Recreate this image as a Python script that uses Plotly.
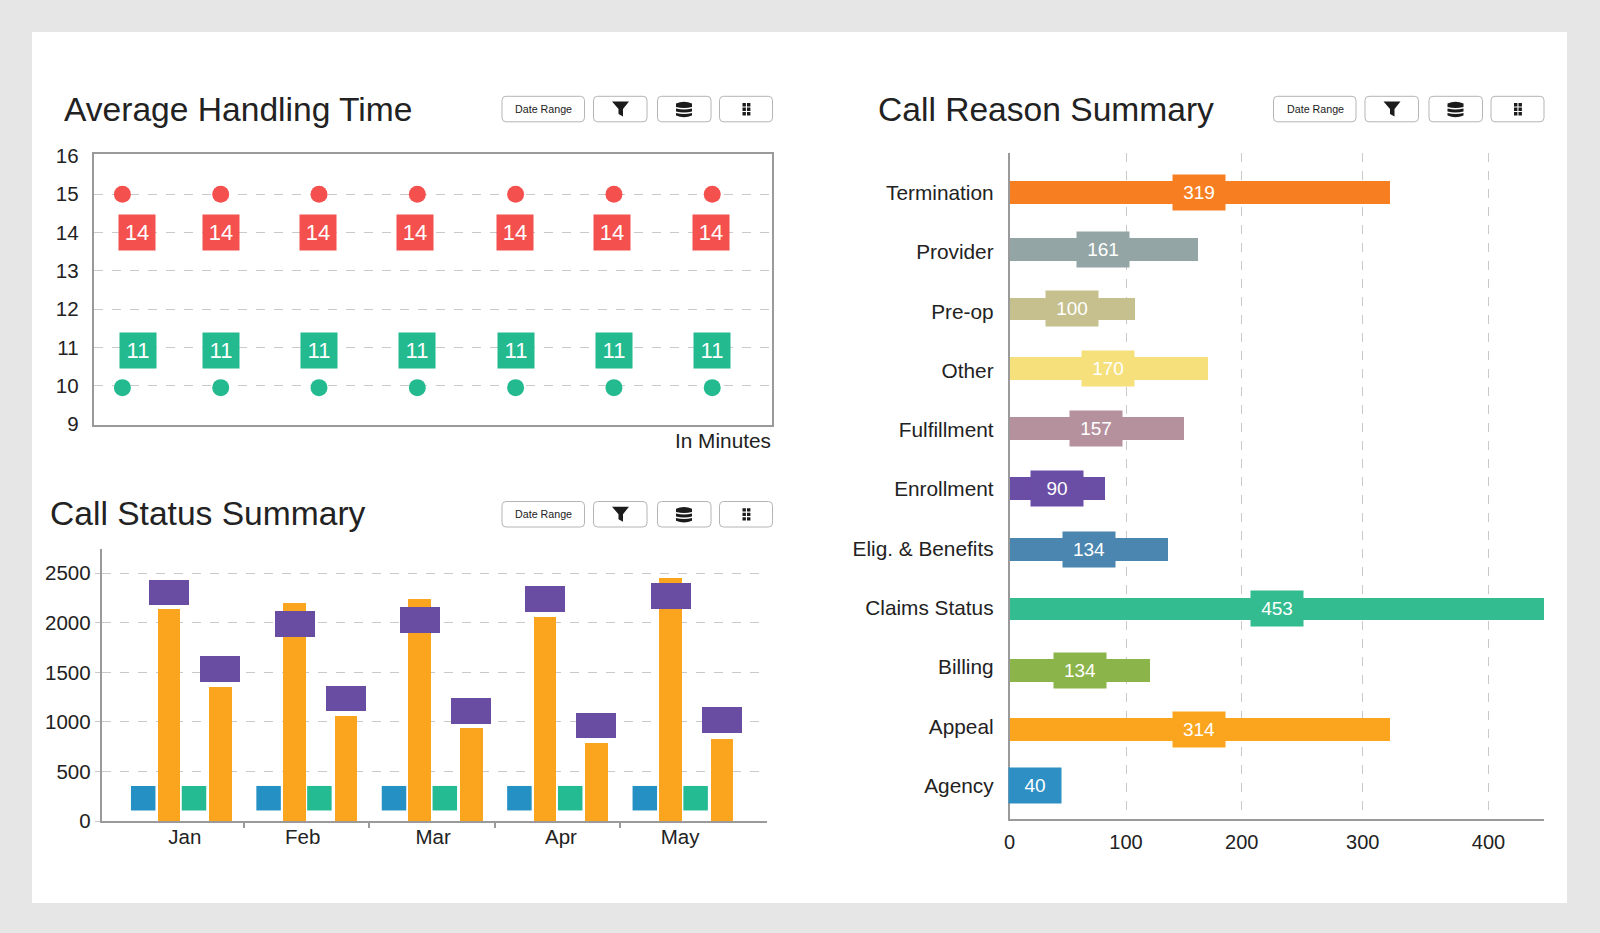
import plotly.graph_objects as go

WIDTH = 1600
HEIGHT = 933
FONT = "Liberation Sans"
TEXT = "#222222"
AXIS = "#9a9a9a"
GRID = "#c9c9c9"

# Average Handling Time
aht_points = [0, 1, 2, 3, 4, 5, 6]
aht_high_marker = [15, 15, 15, 15, 15, 15, 15]
aht_low_marker = [9.95, 9.95, 9.95, 9.95, 9.95, 9.95, 9.95]
aht_high_label = [14, 14, 14, 14, 14, 14, 14]
aht_low_label = [11, 11, 11, 11, 11, 11, 11]
aht_ticks = [9, 10, 11, 12, 13, 14, 15, 16]

# Call Status Summary
months = ["Jan", "Feb", "Mar", "Apr", "May"]
month_idx = [0, 1, 2, 3, 4]
month_ticks = [0.03, 0.97, 2.01, 3.03, 3.98]
status_blue = [230, 230, 230, 230, 230]
status_green = [230, 230, 230, 230, 230]
status_orange_a = [2140, 2198, 2243, 2060, 2450]
status_orange_b = [1352, 1055, 935, 790, 832]
status_purple_a = [2307, 1988, 2028, 2243, 2270]
status_purple_b = [1535, 1237, 1112, 965, 1017]

# Call Reason Summary, bottom to top
reasons = ["Agency", "Appeal", "Billing", "Claims Status", "Elig. & Benefits", "Enrollment",
           "Fulfillment", "Other", "Pre-op", "Provider", "Termination"]
reason_rows = [0, 1, 2, 3, 4, 5, 6, 7, 8, 9, 10]
reason_bar_rows = [0, 0.95, 1.94, 2.98, 3.98, 5.01, 6.02, 7.03, 8.04, 9.04, 10.0]
reason_bars = [43, 317, 117, 447, 132, 79, 145, 165, 104, 157, 317]
reason_labels = [40, 314, 134, 453, 134, 90, 157, 170, 100, 161, 319]
reason_colors = ["#2e8fc4", "#fba51e", "#8bb44a", "#33bc8f", "#4a86b0", "#6a4da5",
                 "#b5919e", "#f6e07b", "#c5c08e", "#93a5a5", "#f77f22"]
reason_ticks = [0, 97.3, 194, 295, 400]
reason_tick_text = ["0", "100", "200", "300", "400"]


def px(x):
    return x / WIDTH


def py(y):
    return 1 - y / HEIGHT


def rect_path(x0, y0, x1, y1, r=0):
    # rounded rectangle, pixel input, paper output
    return (
        f"M {px(x0 + r)} {py(y0)} L {px(x1 - r)} {py(y0)} "
        f"Q {px(x1)} {py(y0)} {px(x1)} {py(y0 + r)} L {px(x1)} {py(y1 - r)} "
        f"Q {px(x1)} {py(y1)} {px(x1 - r)} {py(y1)} L {px(x0 + r)} {py(y1)} "
        f"Q {px(x0)} {py(y1)} {px(x0)} {py(y1 - r)} L {px(x0)} {py(y0 + r)} "
        f"Q {px(x0)} {py(y0)} {px(x0 + r)} {py(y0)} Z"
    )


def poly_path(points):
    return "M " + " L ".join(f"{px(x)} {py(y)}" for x, y in points) + " Z"


def band_path(cx, y, half, h, top_bulge, bottom_bulge):
    # one slice of the database icon
    return (
        f"M {px(cx - half)} {py(y)} Q {px(cx)} {py(y + top_bulge)} {px(cx + half)} {py(y)} "
        f"L {px(cx + half)} {py(y + h)} Q {px(cx)} {py(y + h + bottom_bulge)} {px(cx - half)} {py(y + h)} Z"
    )


fig = go.Figure()
shapes = [
    dict(type="rect", xref="paper", yref="paper", x0=px(32), x1=px(1567), y0=py(903), y1=py(32),
         fillcolor="white", line_width=0, layer="below")
]
annotations = []


def add_toolbar(left, top):
    # left is the left edge of the date range button
    buttons = [(0, 82.5), (91.5, 145), (155.5, 209), (217.5, 270.5)]
    for start, end in buttons:
        shapes.append(dict(type="path", xref="paper", yref="paper",
                           path=rect_path(left + start, top, left + end, top + 25.5, 4),
                           fillcolor="white", line=dict(color="#b5b5b5", width=1)))
    annotations.append(dict(xref="paper", yref="paper", x=px(left + 41.5), y=py(top + 12.7), text="Date Range",
                            showarrow=False, xanchor="center", yanchor="middle",
                            font=dict(family=FONT, size=10.7, color=TEXT)))
    icons = []
    cx = left + 118.5
    cy = top + 12.7
    icons.append(poly_path([(cx - 8.5, cy - 7.5), (cx + 8.5, cy - 7.5), (cx + 2.5, cy), (cx + 2.5, cy + 7.5),
                            (cx - 2, cy + 5), (cx - 2, cy)]))
    cx = left + 182
    icons.append(band_path(cx, cy - 5.5, 8, 3.4, -3.4, 2))
    icons.append(band_path(cx, cy - 0.6, 8, 3, 2, 2))
    icons.append(band_path(cx, cy + 3.9, 8, 2.6, 2, 3.4))
    cx = left + 244.5
    for col in (-4, 0.5):
        for row in (-6, -1.5, 3):
            icons.append(rect_path(cx + col, cy + row, cx + col + 3.4, cy + row + 3.4))
    for path in icons:
        shapes.append(dict(type="path", xref="paper", yref="paper", path=path,
                           fillcolor="#1b1b1b", line_width=0))


def add_title(text, x, y):
    annotations.append(dict(xref="paper", yref="paper", x=px(x), y=py(y), text=text, showarrow=False,
                            xanchor="left", yanchor="middle", font=dict(family=FONT, size=33.6, color=TEXT)))


add_title("Average Handling Time", 62, 109)
add_title("Call Status Summary", 48, 513)
add_title("Call Reason Summary", 876, 109)
add_toolbar(502, 96.3)
add_toolbar(502, 501.5)
add_toolbar(1273.5, 96.3)

annotations.append(dict(xref="paper", yref="paper", x=px(772.5), y=py(441), text="In Minutes", showarrow=False,
                        xanchor="right", yanchor="middle", font=dict(family=FONT, size=20.8, color=TEXT)))

# --- Average Handling Time
RED = "#f4504e"
GREEN = "#22ba8e"
for values, color in ((aht_high_marker, RED), (aht_low_marker, GREEN)):
    fig.add_trace(go.Scatter(x=aht_points, y=values, mode="markers", xaxis="x", yaxis="y",
                             marker=dict(color=color, size=17), showlegend=False))

red_shift = [15, 0, -1, -2, -1, -2, -1]
green_shift = [16, 0, 0, 0, 0, 0, 0]
for labels, color, shifts, yshift in ((aht_high_label, RED, red_shift, 0), (aht_low_label, GREEN, green_shift, -3)):
    for point, value, shift in zip(aht_points, labels, shifts):
        annotations.append(dict(xref="x", yref="y", x=point, y=value, text=str(value), showarrow=False,
                                xshift=shift, yshift=yshift, width=34, height=33, bgcolor=color, valign="middle",
                                font=dict(family=FONT, size=22, color="white")))

# --- Call Status Summary
ORANGE = "#fba51e"
PURPLE = "#684da2"
SLOT = 125.4
PURPLE_SPAN = 260


def add_orange(values, centre):
    fig.add_trace(go.Bar(x=month_idx, y=values, width=22.7 / SLOT, offset=(centre - 11.35) / SLOT,
                         xaxis="x2", yaxis="y2", marker=dict(color=ORANGE, line_width=0), showlegend=False))


def add_purple(values, centre):
    fig.add_trace(go.Bar(x=month_idx, y=[PURPLE_SPAN] * len(values), base=[v - PURPLE_SPAN / 2 for v in values],
                         width=40 / SLOT, offset=(centre - 20) / SLOT, xaxis="x2", yaxis="y2",
                         marker=dict(color=PURPLE, line_width=0), showlegend=False))


add_orange(status_orange_a, -12.6)
add_orange(status_orange_b, 39)
add_purple(status_purple_a, -12.3)
add_purple(status_purple_b, 38.7)
for values, color, centre in ((status_blue, "#2490c4", -37.8), (status_green, "#24ba92", 13)):
    fig.add_trace(go.Scatter(x=[m + centre / SLOT for m in month_idx], y=values, mode="markers",
                             xaxis="x2", yaxis="y2", showlegend=False,
                             marker=dict(symbol="square", size=24.5, color=color)))

# --- Call Reason Summary
fig.add_trace(go.Bar(x=reason_bars, y=reason_bar_rows, orientation="h", width=22.7 / 59.3, xaxis="x3", yaxis="y3",
                     marker=dict(color=reason_colors, line_width=0), showlegend=False))
for row, bar, label, color in zip(reason_bar_rows, reason_bars, reason_labels, reason_colors):
    annotations.append(dict(xref="x3", yref="y3", x=bar / 2, y=row, text=str(label), showarrow=False,
                            width=50, height=33, bgcolor=color, valign="middle",
                            font=dict(family=FONT, size=19, color="white")))

tick_font = dict(family=FONT, size=20.5, color=TEXT)
fig.update_layout(
    width=WIDTH,
    height=HEIGHT,
    margin=dict(l=0, r=0, t=0, b=0, autoexpand=False),
    paper_bgcolor="#e6e6e6",
    plot_bgcolor="rgba(0,0,0,0)",
    barmode="overlay",
    bargap=0,
    font=dict(family=FONT, color=TEXT),
    shapes=shapes,
    annotations=annotations,
    xaxis=dict(domain=[px(93.5), px(772)], anchor="y", range=[-0.294, 6.608], showgrid=False, zeroline=False,
               automargin=False, showticklabels=False, ticks="", showline=True, linecolor=AXIS, linewidth=1.5,
               mirror=True),
    yaxis=dict(domain=[py(425), py(154)], anchor="x", range=[8.974, 16.052], tickvals=aht_ticks,
               automargin=False, showgrid=False, zeroline=False, showline=True, linecolor=AXIS, linewidth=1.5,
               mirror=True, ticks="", tickfont=tick_font, ticklabelstandoff=9,
               minor=dict(tickvals=[10, 11, 12, 13, 14, 15], showgrid=True, gridcolor=GRID, griddash="dash",
                          gridwidth=1, ticks="")),
    xaxis2=dict(domain=[px(101.5), px(767)], anchor="y2", range=[-0.634, 4.673], tickvals=month_ticks,
                automargin=False, ticktext=months, showgrid=False, zeroline=False, showline=True, linecolor=AXIS,
                linewidth=1.5, ticks="", tickfont=tick_font, ticklabelstandoff=-3,
                minor=dict(tickvals=[0.5, 1.5, 2.5, 3.5], ticks="outside", ticklen=5, tickcolor=AXIS, tickwidth=1.5,
                           showgrid=False)),
    yaxis2=dict(domain=[py(821), py(549)], anchor="x2", range=[0, 2745], tickvals=[0, 500, 1000, 1500, 2000, 2500],
                automargin=False, gridcolor=GRID, griddash="dash", gridwidth=1, zeroline=False, showline=True,
                linecolor=AXIS, linewidth=1.5, ticks="outside", ticklen=5, tickcolor=GRID, tickfont=tick_font,
                ticklabelstandoff=0),
    xaxis3=dict(domain=[px(1009.5), px(1544)], anchor="y3", range=[0, 446.4], tickvals=reason_ticks,
                automargin=False, ticktext=reason_tick_text, gridcolor=GRID, griddash="dash", gridwidth=1,
                zeroline=False, showline=True, linecolor=AXIS, linewidth=1.5, ticks="",
                tickfont=dict(family=FONT, size=20, color=TEXT), ticklabelstandoff=4),
    yaxis3=dict(domain=[py(819.4), py(153)], anchor="x3", range=[-0.57, 10.67], tickvals=reason_rows,
                ticktext=reasons, automargin=False, showgrid=False, zeroline=False,
                showline=True, linecolor=AXIS, linewidth=1.5, ticks="",
                tickfont=dict(family=FONT, size=20.8, color=TEXT), ticklabelstandoff=10),
)

fig.write_html("out.html", config={"displayModeBar": False}, post_script="document.body.style.margin='0';")
